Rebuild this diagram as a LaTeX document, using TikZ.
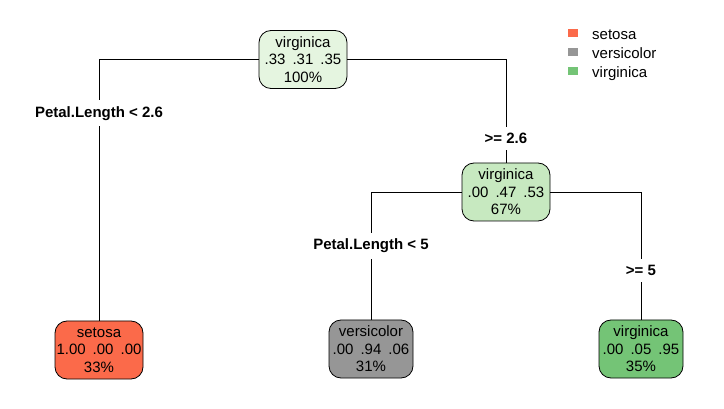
\documentclass[tikz,border=0pt]{standalone}
\usepackage{fontspec}
\setmainfont{Liberation Sans}
\definecolor{setosacol}{HTML}{FB6A4A}
\definecolor{versicol}{HTML}{969696}
\definecolor{virgcol}{HTML}{74C476}
\definecolor{rootcol}{HTML}{E5F5E0}
\definecolor{midcol}{HTML}{C7E9C0}
\newcommand{\pgap}{\hspace{7pt}}
\begin{document}
\begin{tikzpicture}[x=1pt, y=-1pt,
		box/.style={draw, line width=0.8pt, rounded corners=12pt, minimum width=88pt, minimum height=58pt, inner sep=0pt, align=center, font=\fontsize{15}{17.5}\selectfont},
		split/.style={fill=white, inner sep=6pt, font=\bfseries\fontsize{15}{17.5}\selectfont},
		key/.style={minimum width=10pt, minimum height=8pt, inner sep=0pt},
		keytext/.style={anchor=base west, inner sep=0pt, font=\fontsize{15}{17.5}\selectfont}]
		\useasboundingbox (0,0) rectangle (724,409);
		
		\node[box, fill=rootcol] (root) at (303,59.5) {virginica\\.33\pgap.31\pgap.35\\100\%};
		\node[box, fill=midcol] (mid) at (506,192) {virginica\\.00\pgap.47\pgap.53\\67\%};
		\node[box, fill=setosacol] (setosa) at (99,350) {setosa\\1.00\pgap.00\pgap.00\\33\%};
		\node[box, fill=versicol, minimum width=84pt] (versi) at (371,349) {versicolor\\.00\pgap.94\pgap.06\\31\%};
		\node[box, fill=virgcol, minimum width=84pt] (virg) at (641,349) {virginica\\.00\pgap.05\pgap.95\\35\%};
		
		\draw[-, line width=0.8pt] (root.west) -| node[split, pos=0.603] {Petal.Length < 2.6} (setosa.north);
		\draw[-, line width=0.8pt] (root.east) -| node[split, pos=0.884] {>= 2.6} (mid.north);
		\draw[-, line width=0.8pt] (mid.west) -| node[split, pos=0.71] {Petal.Length < 5} (versi.north);
		\draw[-, line width=0.8pt] (mid.east) -| node[split, pos=0.807] {>= 5} (virg.north);
		
		% legend
		\node[key, fill=setosacol] (k1) at (573,32.7) {};
		\node[key, fill=versicol] (k2) at (573,51.7) {};
		\node[key, fill=virgcol] (k3) at (573,70.7) {};
		\node[keytext] (t1) at (592,40) {setosa};
		\node[keytext] (t2) at (592,59) {versicolor};
		\node[keytext] (t3) at (592,78) {virginica};
	\end{tikzpicture}
\end{document}
